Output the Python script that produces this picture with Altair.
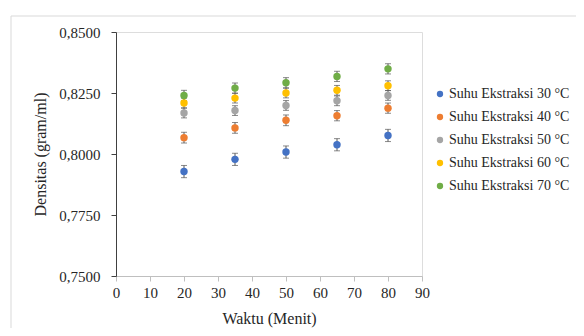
import altair as alt
import pandas as pd

series = ["Suhu Ekstraksi 30 °C", "Suhu Ekstraksi 40 °C", "Suhu Ekstraksi 50 °C",
          "Suhu Ekstraksi 60 °C", "Suhu Ekstraksi 70 °C"]
colors = ["#4472C4", "#ED7D31", "#A5A5A5", "#FFC000", "#70AD47"]
waktu = [20, 35, 50, 65, 80]

d30 = [0.7928, 0.7978, 0.8008, 0.8038, 0.8076]
d40 = [0.8067, 0.8107, 0.8138, 0.8157, 0.8188]
d50 = [0.8168, 0.8178, 0.8199, 0.8218, 0.8240]
d60 = [0.8209, 0.8229, 0.8250, 0.8261, 0.8280]
d70 = [0.8240, 0.8270, 0.8292, 0.8318, 0.8349]

e30 = [0.0025, 0.0025, 0.0025, 0.0025, 0.0025]
e40 = [0.0022, 0.0022, 0.0022, 0.0021, 0.0021]
e50 = [0.0020, 0.0020, 0.0020, 0.0020, 0.0020]
e60 = [0.0020, 0.0020, 0.0020, 0.0020, 0.0020]
e70 = [0.0021, 0.0021, 0.0021, 0.0021, 0.0021]

y_ticks = [0.75, 0.775, 0.80, 0.825, 0.85]
x_ticks = [0, 10, 20, 30, 40, 50, 60, 70, 80, 90]

rows = []
for name, vals, errs in zip(series, [d30, d40, d50, d60, d70], [e30, e40, e50, e60, e70]):
    for w, v, e in zip(waktu, vals, errs):
        rows.append({"seri": name, "waktu": w, "densitas": v, "lo": v - e, "hi": v + e})
df = pd.DataFrame(rows)

FONT = "Liberation Serif"
TXT = "#262626"

xscale = alt.Scale(domain=[0, 90], nice=False, zero=False)
yscale = alt.Scale(domain=[0.75, 0.85], nice=False, zero=False)

xaxis = alt.Axis(values=x_ticks, grid=False, domainColor="#BFBFBF", tickColor="#BFBFBF",
                 tickSize=5, labelPadding=4, labelFontSize=15, labelFont=FONT,
                 labelColor=TXT, labelOverlap=False, labelFlush=False,
                 titleFont=FONT, titleFontSize=16, titleFontWeight="normal",
                 titleColor=TXT, titleY=47, titleBaseline="alphabetic")
yaxis = alt.Axis(values=y_ticks, grid=False, domainColor="#404040", tickColor="#404040",
                 tickSize=5, labelPadding=11, labelFontSize=15, labelFont=FONT,
                 labelColor=TXT, labelOverlap=False, labelFlush=False,
                 labelExpr="replace(format(datum.value, '.4f'), '.', ',')",
                 titleFont=FONT, titleFontSize=16, titleFontWeight="normal",
                 titleColor=TXT, titleX=-76, titleY=122, titleBaseline="middle",
                 titleAngle=-90, titleAlign="center")

def X():
    return alt.X("waktu:Q", scale=xscale, title="Waktu (Menit)", axis=xaxis)

def Y(field):
    return alt.Y(field, scale=yscale, title="Densitas (gram/ml)", axis=yaxis)

base = alt.Chart(df)

border = alt.Chart(pd.DataFrame({"a": [0]})).mark_rect(
    fillOpacity=0, stroke="#D9D9D9", strokeWidth=1
).encode(x=alt.value(-105), x2=alt.value(600), y=alt.value(-16), y2=alt.value(400))

rules = base.mark_rule(color="#595959", strokeWidth=1).encode(
    x=X(), y=Y("lo:Q"), y2="hi:Q")
caps_lo = base.mark_tick(color="#595959", orient="horizontal", size=6, thickness=1).encode(
    x=X(), y=Y("lo:Q"))
caps_hi = base.mark_tick(color="#595959", orient="horizontal", size=6, thickness=1).encode(
    x=X(), y=Y("hi:Q"))

points = base.mark_circle(size=55, opacity=1).encode(
    x=X(),
    y=Y("densitas:Q"),
    color=alt.Color("seri:N", scale=alt.Scale(domain=series, range=colors),
                    legend=alt.Legend(title=None, orient="none", legendX=317, legendY=55,
                                      labelFont=FONT, labelFontSize=14, labelColor=TXT,
                                      symbolSize=40, symbolType="circle", rowPadding=9,
                                      labelOffset=2, padding=0)),
)

chart = alt.layer(border, rules, caps_lo, caps_hi, points).properties(
    width=306, height=244,
    autosize=alt.AutoSizeParams(type="none"),
    padding={"left": 108, "top": 24, "right": 154, "bottom": 52},
).configure_view(stroke=None).configure(background="white")

chart.save("out.html", embed_options={"renderer": "svg", "actions": False})
